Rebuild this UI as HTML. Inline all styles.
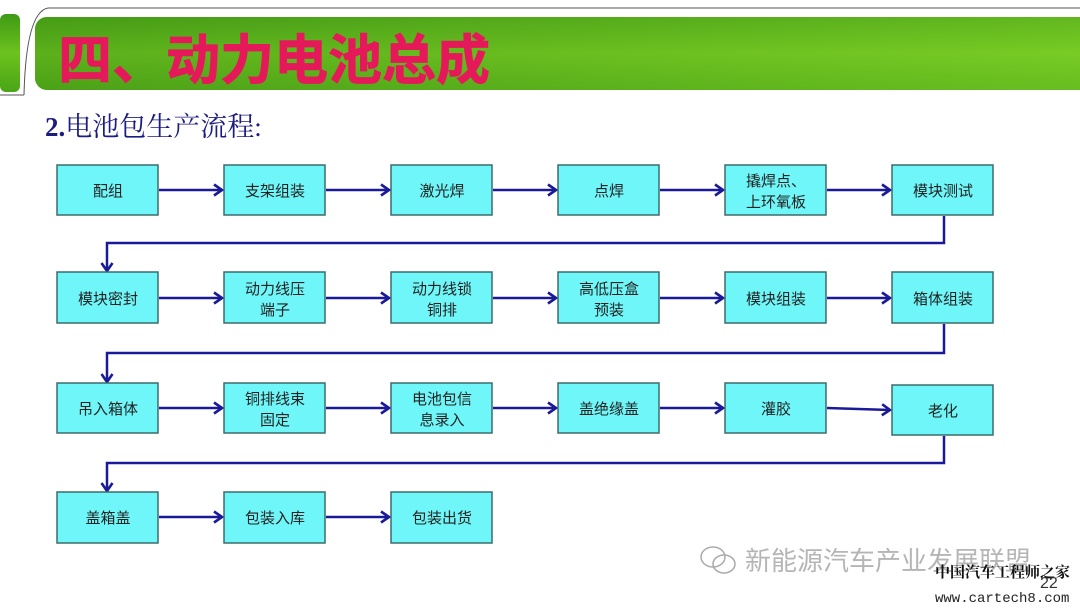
<!DOCTYPE html>
<html><head><meta charset="utf-8"><style>
body{margin:0;width:1080px;height:608px;overflow:hidden;background:#fff;}
svg{display:block}
</style></head><body>
<svg width="1080" height="608" viewBox="0 0 1080 608" font-family="'Liberation Sans','Noto Sans CJK SC',sans-serif">
<defs>
<linearGradient id="g" x1="0" y1="0" x2="0" y2="1">
<stop offset="0" stop-color="#3e9a14"/><stop offset="0.5" stop-color="#6cc21e"/><stop offset="1" stop-color="#4aa516"/>
</linearGradient>
<linearGradient id="gh" x1="0" y1="0" x2="1" y2="0">
<stop offset="0" stop-color="#4c9e18"/><stop offset="1" stop-color="#86d62a"/>
</linearGradient>
<marker id="a" markerWidth="12" markerHeight="14" refX="10" refY="7" orient="auto" markerUnits="userSpaceOnUse">
<path d="M2,1.5 L10,7 L2,12.5" fill="none" stroke="#1a1a99" stroke-width="2.6"/>
</marker>
</defs>
<rect x="0" y="14" width="20" height="78" rx="6" fill="url(#g)"/>
<path d="M24,95 Q26,12 48,8 L1080,8" fill="none" stroke="#555" stroke-width="1"/>
<path d="M24,95 L0,95" fill="none" stroke="#555" stroke-width="1"/>
<rect x="35" y="17" width="1060" height="73" rx="12" fill="url(#gh)"/>
<rect x="35" y="17" width="1060" height="73" rx="12" fill="url(#g)" opacity="0.5"/>
<text x="58" y="79" font-size="54" font-weight="bold" fill="#e5195a" stroke="#e5195a" stroke-width="0.8">四、动力电池总成</text>
<text x="45" y="136" font-size="27" fill="#1d1d80" font-family="'Liberation Serif','Noto Serif CJK SC',serif"><tspan font-weight="bold">2.</tspan>电池包生产流程:</text>
<g stroke="#1a1a99" stroke-width="2.5" fill="none">
<line x1="159" y1="190" x2="222" y2="190" marker-end="url(#a)"/>
<line x1="326" y1="190" x2="389" y2="190" marker-end="url(#a)"/>
<line x1="493" y1="190" x2="556" y2="190" marker-end="url(#a)"/>
<line x1="660" y1="190" x2="723" y2="190" marker-end="url(#a)"/>
<line x1="827" y1="190" x2="890" y2="190" marker-end="url(#a)"/>
<polyline points="944,216 944,243 107,243 107,271" marker-end="url(#a)"/>
<line x1="159" y1="298" x2="222" y2="298" marker-end="url(#a)"/>
<line x1="326" y1="298" x2="389" y2="298" marker-end="url(#a)"/>
<line x1="493" y1="298" x2="556" y2="298" marker-end="url(#a)"/>
<line x1="660" y1="298" x2="723" y2="298" marker-end="url(#a)"/>
<line x1="827" y1="298" x2="890" y2="298" marker-end="url(#a)"/>
<polyline points="944,324 944,353 107,353 107,382" marker-end="url(#a)"/>
<line x1="159" y1="408" x2="222" y2="408" marker-end="url(#a)"/>
<line x1="326" y1="408" x2="389" y2="408" marker-end="url(#a)"/>
<line x1="493" y1="408" x2="556" y2="408" marker-end="url(#a)"/>
<line x1="660" y1="408" x2="723" y2="408" marker-end="url(#a)"/>
<line x1="827" y1="408" x2="890" y2="410" marker-end="url(#a)"/>
<polyline points="944,436 944,463 107,463 107,491" marker-end="url(#a)"/>
<line x1="159" y1="517" x2="222" y2="517" marker-end="url(#a)"/>
<line x1="326" y1="517" x2="389" y2="517" marker-end="url(#a)"/>
</g>
<g fill="#6ff6f8" stroke="#3d6b6b" stroke-width="1.5">
<rect x="57" y="165" width="101" height="50"/><rect x="224" y="165" width="101" height="50"/><rect x="391" y="165" width="101" height="50"/><rect x="558" y="165" width="101" height="50"/><rect x="725" y="165" width="101" height="50"/><rect x="892" y="165" width="101" height="50"/>
<rect x="57" y="272" width="101" height="51"/><rect x="224" y="272" width="101" height="51"/><rect x="391" y="272" width="101" height="51"/><rect x="558" y="272" width="101" height="51"/><rect x="725" y="272" width="101" height="51"/><rect x="892" y="272" width="101" height="51"/>
<rect x="57" y="383" width="101" height="50"/><rect x="224" y="383" width="101" height="50"/><rect x="391" y="383" width="101" height="50"/><rect x="558" y="383" width="101" height="50"/><rect x="725" y="383" width="101" height="50"/><rect x="892" y="385" width="101" height="50"/>
<rect x="57" y="492" width="101" height="51"/><rect x="224" y="492" width="101" height="51"/><rect x="391" y="492" width="101" height="51"/>
</g>
<g font-size="15" fill="#222" text-anchor="middle">
<text x="108" y="196">配组</text><text x="275" y="196">支架组装</text><text x="442" y="196">激光焊</text><text x="609" y="196">点焊</text>
<text x="776" y="186">撬焊点、</text><text x="776" y="207">上环氧板</text><text x="943" y="196">模块测试</text>
<text x="108" y="304">模块密封</text><text x="275" y="294">动力线压</text><text x="275" y="315">端子</text>
<text x="442" y="294">动力线锁</text><text x="442" y="315">铜排</text><text x="609" y="294">高低压盒</text><text x="609" y="315">预装</text>
<text x="776" y="304">模块组装</text><text x="943" y="304">箱体组装</text>
<text x="108" y="414">吊入箱体</text><text x="275" y="404">铜排线束</text><text x="275" y="425">固定</text>
<text x="442" y="404">电池包信</text><text x="442" y="425">息录入</text><text x="609" y="414">盖绝缘盖</text><text x="776" y="414">灌胶</text><text x="943" y="416">老化</text>
<text x="108" y="523">盖箱盖</text><text x="275" y="523">包装入库</text><text x="442" y="523">包装出货</text>
</g>
<g fill="none" stroke="#aaa" stroke-width="1.5"><ellipse cx="713" cy="557" rx="12" ry="10"/><ellipse cx="724" cy="564" rx="11" ry="9"/></g>
<text x="745" y="570" font-size="26" fill="#b5b5b5">新能源汽车产业发展联盟</text>
<text x="935" y="577" font-size="15" font-weight="bold" fill="#111" font-family="'Noto Serif CJK SC',serif">中国汽车工程师之家</text>
<text x="1040" y="588" font-size="16" fill="#333">22</text>
<text x="935" y="602" font-size="14" fill="#222" font-family="'Liberation Mono',monospace">www.cartech8.com</text>
</svg>
</body></html>
